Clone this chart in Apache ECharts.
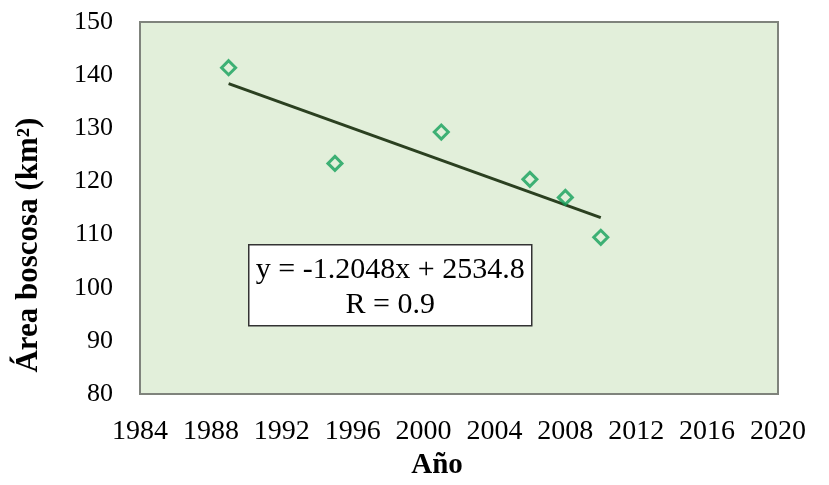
<!DOCTYPE html>
<html>
<head>
    <meta charset="UTF-8">
    <title>Área boscosa</title>
    <script src="https://cdn.jsdelivr.net/npm/echarts@6/dist/echarts.min.js"></script>
    <style>
        body { margin: 0; background: #fff; }
    </style>
</head>
<body>
    <div id="chart" style="width:829px; height:485px;"></div>
    <script>
        // observed values
        var years = [1989, 1995, 2001, 2006, 2008, 2010];
        var area = [141.4, 123.4, 129.3, 120.4, 117.0, 109.5];
        // linear trend endpoints (y = -1.2048x + 2534.8)
        var trendYears = [1989, 2010];
        var trendArea = [138.4, 113.2];
        var equationText = 'y = -1.2048x + 2534.8';
        var rText = 'R = 0.9';

        var font = 'Liberation Serif';
        var chart = echarts.init(document.getElementById('chart'), null, {renderer: 'canvas'});

        chart.setOption({
            animation: false,
            grid: {
                left: 140, right: 51, top: 22, bottom: 90,
                show: true,
                backgroundColor: '#e2efda',
                borderColor: '#7f837c',
                borderWidth: 2
            },
            xAxis: {
                type: 'value',
                min: 1984, max: 2020, interval: 4,
                name: 'Año',
                nameLocation: 'middle',
                nameGap: 52,
                nameTextStyle: {fontFamily: font, fontSize: 29, fontWeight: 'bold', color: '#000', padding: [0, 44, 0, 0]},
                axisLine: {show: false},
                axisTick: {show: false},
                splitLine: {show: false},
                axisLabel: {fontFamily: font, fontSize: 28, color: '#000', margin: 24,
                    formatter: function (v) { return String(v); }}
            },
            yAxis: {
                type: 'value',
                min: 80, max: 150, interval: 10,
                name: 'Área boscosa (km²)',
                nameLocation: 'middle',
                nameGap: 96,
                nameTextStyle: {fontFamily: font, fontSize: 31, fontWeight: 'bold', color: '#000', padding: [0, 74, 0, 0]},
                axisLine: {show: false},
                axisTick: {show: false},
                splitLine: {show: false},
                axisLabel: {fontFamily: font, fontSize: 26, color: '#000', margin: 27}
            },
            series: [
                {
                    type: 'line',
                    data: trendYears.map(function (x, i) { return [x, trendArea[i]]; }),
                    showSymbol: false,
                    lineStyle: {color: '#2b4020', width: 3},
                    z: 2
                },
                {
                    type: 'scatter',
                    data: years.map(function (x, i) { return [x, area[i]]; }),
                    symbol: 'diamond',
                    symbolSize: 14,
                    itemStyle: {color: 'transparent', borderColor: '#14a05a', borderWidth: 3},
                    z: 3
                }
            ],
            graphic: [{
                type: 'group',
                left: 248, top: 244,
                children: [
                    {
                        type: 'rect',
                        shape: {x: 0, y: 0, width: 283, height: 81},
                        style: {fill: '#fff', stroke: '#333', lineWidth: 1.5}
                    },
                    {
                        type: 'text',
                        x: 141.5, y: 25,
                        style: {text: equationText, fontFamily: font, fontSize: 30, fill: '#000', align: 'center', verticalAlign: 'middle'}
                    },
                    {
                        type: 'text',
                        x: 141.5, y: 60,
                        style: {text: rText, fontFamily: font, fontSize: 30, fill: '#000', align: 'center', verticalAlign: 'middle'}
                    }
                ]
            }]
        });
    </script>
</body>
</html>
